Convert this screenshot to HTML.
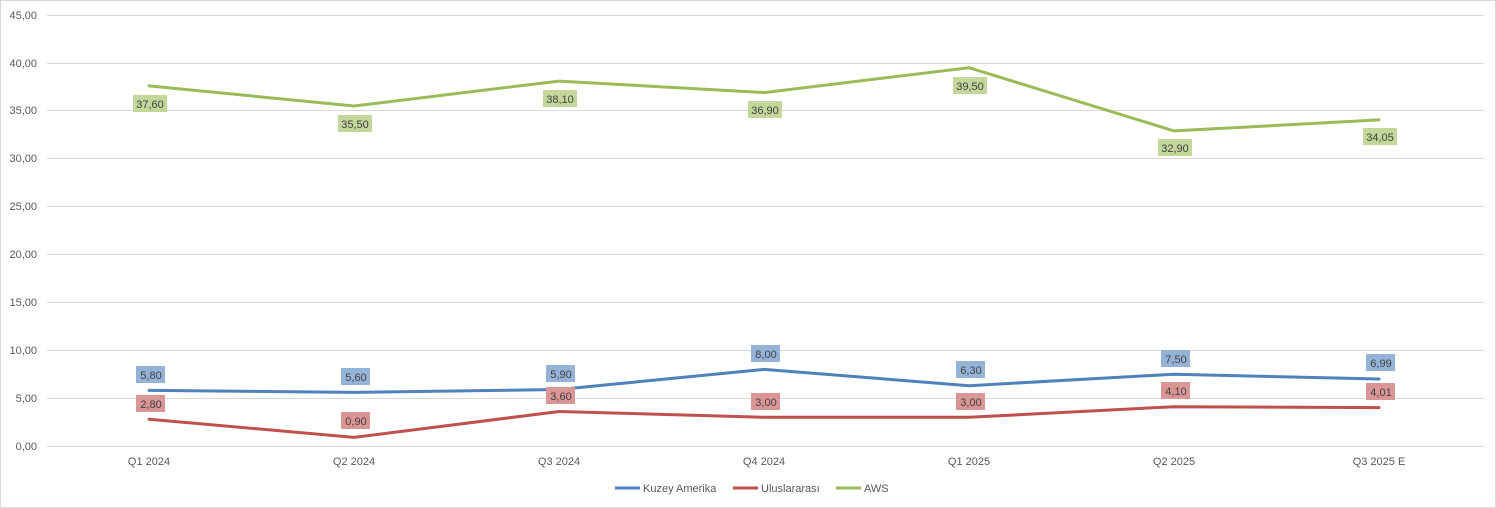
<!DOCTYPE html>
<html><head><meta charset="utf-8"><style>
html,body{margin:0;padding:0;background:#fff}
svg{display:block;font-family:"Liberation Sans",Arial,sans-serif}
</style></head><body>
<svg width="1496" height="508" xmlns="http://www.w3.org/2000/svg">
<rect x="0.5" y="0.5" width="1495" height="507" fill="#fff" stroke="#d9d9d9"/>
<g stroke="#d9d9d9" stroke-width="1">
<line x1="47" x2="1484" y1="446.5" y2="446.5"/>
<line x1="47" x2="1484" y1="398.5" y2="398.5"/>
<line x1="47" x2="1484" y1="350.5" y2="350.5"/>
<line x1="47" x2="1484" y1="302.5" y2="302.5"/>
<line x1="47" x2="1484" y1="254.5" y2="254.5"/>
<line x1="47" x2="1484" y1="206.5" y2="206.5"/>
<line x1="47" x2="1484" y1="158.5" y2="158.5"/>
<line x1="47" x2="1484" y1="110.5" y2="110.5"/>
<line x1="47" x2="1484" y1="63.5" y2="63.5"/>
<line x1="47" x2="1484" y1="15.5" y2="15.5"/>
</g>
<g font-size="11" fill="#595959" text-anchor="end">
<text x="37" y="450">0,00</text>
<text x="37" y="402">5,00</text>
<text x="37" y="354">10,00</text>
<text x="37" y="306">15,00</text>
<text x="37" y="258">20,00</text>
<text x="37" y="210">25,00</text>
<text x="37" y="162">30,00</text>
<text x="37" y="114">35,00</text>
<text x="37" y="67">40,00</text>
<text x="37" y="19">45,00</text>
</g>
<g font-size="11" fill="#595959" text-anchor="middle">
<text x="149" y="465">Q1 2024</text>
<text x="354" y="465">Q2 2024</text>
<text x="559" y="465">Q3 2024</text>
<text x="764" y="465">Q4 2024</text>
<text x="969" y="465">Q1 2025</text>
<text x="1174" y="465">Q2 2025</text>
<text x="1379" y="465">Q3 2025 E</text>
</g>
<g fill="none" stroke-width="3" stroke-linejoin="round" stroke-linecap="round">
<polyline stroke="#4f81bd" points="149,390.4 354,392.4 559,389.5 764,369.4 969,385.7 1174,374.2 1379,379"/>
<polyline stroke="#c0504d" points="149,419.2 354,437.4 559,411.5 764,417.3 969,417.3 1174,406.7 1379,407.6"/>
<polyline stroke="#9bbb59" points="149,85.9 354,106 559,81.1 764,92.6 969,67.7 1174,130.9 1379,119.9"/>
</g>
<g font-size="11" fill="#404040" text-anchor="middle">
<g fill="#95b3d7">
<rect x="136" y="366" width="29" height="17"/><rect x="341" y="368" width="29" height="17"/><rect x="546" y="365" width="29" height="17"/><rect x="751" y="345" width="29" height="17"/><rect x="956" y="361" width="29" height="17"/><rect x="1161" y="350" width="29" height="17"/><rect x="1366" y="354" width="29" height="17"/>
</g>
<g fill="#da9694">
<rect x="136" y="395" width="29" height="17"/><rect x="341" y="412" width="29" height="17"/><rect x="546" y="387" width="29" height="17"/><rect x="751" y="393" width="29" height="17"/><rect x="956" y="393" width="29" height="17"/><rect x="1161" y="382" width="29" height="17"/><rect x="1366" y="383" width="29" height="17"/>
</g>
<g fill="#c4d79b">
<rect x="133" y="95" width="34" height="17"/><rect x="338" y="115" width="34" height="17"/><rect x="543" y="90" width="34" height="17"/><rect x="748" y="101" width="34" height="17"/><rect x="953" y="77" width="34" height="17"/><rect x="1158" y="139" width="34" height="17"/><rect x="1363" y="128" width="34" height="17"/>
</g>
<text x="151" y="379">5,80</text><text x="356" y="381">5,60</text><text x="561" y="378">5,90</text><text x="766" y="358">8,00</text><text x="971" y="374">6,30</text><text x="1176" y="363">7,50</text><text x="1381" y="367">6,99</text>
<text x="151" y="408">2,80</text><text x="356" y="425">0,90</text><text x="561" y="400">3,60</text><text x="766" y="406">3,00</text><text x="971" y="406">3,00</text><text x="1176" y="395">4,10</text><text x="1381" y="396">4,01</text>
<text x="150" y="108">37,60</text><text x="355" y="128">35,50</text><text x="560" y="103">38,10</text><text x="765" y="114">36,90</text><text x="970" y="90">39,50</text><text x="1175" y="152">32,90</text><text x="1380" y="141">34,05</text>
</g>
<g stroke-width="3">
<line x1="615" x2="640" y1="488" y2="488" stroke="#4f81bd"/>
<line x1="733" x2="758" y1="488" y2="488" stroke="#c0504d"/>
<line x1="836" x2="861" y1="488" y2="488" stroke="#9bbb59"/>
</g>
<g font-size="11" fill="#595959">
<text x="643" y="492">Kuzey Amerika</text>
<text x="761" y="492">Uluslararası</text>
<text x="864" y="492">AWS</text>
</g>
</svg>
</body></html>
